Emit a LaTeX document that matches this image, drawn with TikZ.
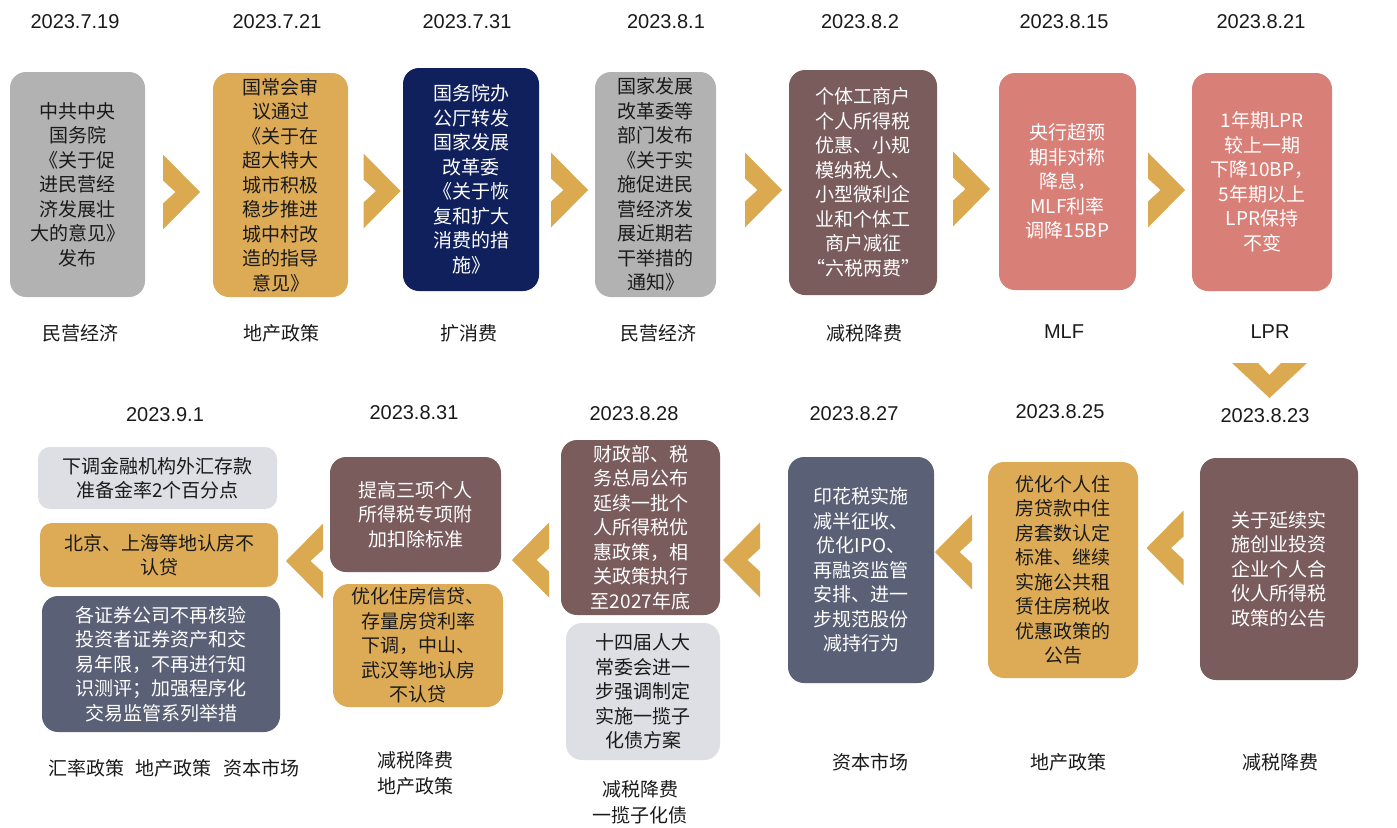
\documentclass[tikz,border=0pt]{standalone}
\usepackage{fontspec}
\setmainfont{Liberation Sans}
\newfontfamily\cjk{Noto Sans CJK SC}
\definecolor{cgray}{HTML}{B2B2B2}
\definecolor{cgold}{HTML}{DDAB56}
\definecolor{cnavy}{HTML}{0F205C}
\definecolor{cbrown}{HTML}{7A5C5C}
\definecolor{csalmon}{HTML}{D87F78}
\definecolor{clight}{HTML}{DEDFE4}
\definecolor{cslate}{HTML}{5A6176}
\definecolor{cchev}{HTML}{DAA950}
\definecolor{ctext}{HTML}{1A1A1A}
\tikzset{
  box/.style={rectangle, rounded corners=16pt, inner sep=0pt, align=center,
    font=\cjk\fontsize{19}{24.5}\selectfont},
  darkt/.style={text=ctext},
  whitet/.style={text=white},
  datelbl/.style={font=\fontsize{20}{24}\selectfont, text=ctext, inner sep=0pt},
  catlbl/.style={font=\cjk\fontsize{19}{26}\selectfont, text=ctext, inner sep=0pt, align=center},
  latlbl/.style={font=\fontsize{20}{24}\selectfont, text=ctext, inner sep=0pt},
  rchev/.pic={\fill[cchev] (-18.5,-37.5) -- (18.5,0) -- (-18.5,37.5) -- (-18.5,11.5) -- (-6,0) -- (-18.5,-11.5) -- cycle;},
  lchev/.pic={\fill[cchev] (18.5,-37.5) -- (-18.5,0) -- (18.5,37.5) -- (18.5,11.5) -- (6,0) -- (18.5,-11.5) -- cycle;},
  dchev/.pic={\fill[cchev] (-37.5,-17.5) -- (-11.5,-17.5) -- (0,-5.5) -- (11.5,-17.5) -- (37.5,-17.5) -- (0,17.5) -- cycle;}
}
\begin{document}
\begin{tikzpicture}[x=1pt,y=-1pt]
\useasboundingbox[fill=white] (0,0) rectangle (1397,827);

% ---- top row dates
\node[datelbl] (d1) at (75,22) {2023.7.19};
\node[datelbl] (d2) at (277,22) {2023.7.21};
\node[datelbl] (d3) at (467,22) {2023.7.31};
\node[datelbl] (d4) at (666,22) {2023.8.1};
\node[datelbl] (d5) at (860,22) {2023.8.2};
\node[datelbl] (d6) at (1064,22) {2023.8.15};
\node[datelbl] (d7) at (1261,22) {2023.8.21};

% ---- top row boxes
\node[box, darkt, fill=cgray, minimum width=135pt, minimum height=225pt] (b1) at (77.5,184.5)
 {中共中央\\国务院\\《关于促\\进民营经\\济发展壮\\大的意见》\\发布};
\node[box, darkt, fill=cgold, minimum width=135pt, minimum height=224pt] (b2) at (280.5,185)
 {国常会审\\议通过\\《关于在\\超大特大\\城市积极\\稳步推进\\城中村改\\造的指导\\意见》};
\node[box, whitet, fill=cnavy, minimum width=136pt, minimum height=223pt] (b3) at (471,179.5)
 {国务院办\\公厅转发\\国家发展\\改革委\\《关于恢\\复和扩大\\消费的措\\施》};
\node[box, darkt, fill=cgray, minimum width=121pt, minimum height=225pt] (b4) at (655.5,184.5)
 {国家发展\\改革委等\\部门发布\\《关于实\\施促进民\\营经济发\\展近期若\\干举措的\\通知》};
\node[box, whitet, fill=cbrown, minimum width=148pt, minimum height=225pt] (b5) at (863,182.5)
 {个体工商户\\个人所得税\\优惠、小规\\模纳税人、\\小型微利企\\业和个体工\\商户减征\\“六税两费”};
\node[box, whitet, fill=csalmon, minimum width=137pt, minimum height=217pt] (b6) at (1067.5,181.5)
 {央行超预\\期非对称\\降息，\\MLF利率\\调降15BP};
\node[box, whitet, fill=csalmon, minimum width=140pt, minimum height=218pt] (b7) at (1262,182)
 {1年期LPR\\较上一期\\下降10BP，\\5年期以上\\LPR保持\\不变};

% ---- top row categories
\node[catlbl] (l1) at (80,333) {民营经济};
\node[catlbl] (l2) at (281,333) {地产政策};
\node[catlbl] (l3) at (469,333) {扩消费};
\node[catlbl] (l4) at (658,333) {民营经济};
\node[catlbl] (l5) at (864,333) {减税降费};
\node[latlbl] (l6) at (1064,332) {MLF};
\node[latlbl] (l7) at (1270,332) {LPR};

% ---- top row chevrons
\pic at (181.5,192) {rchev};
\pic at (382,191) {rchev};
\pic at (569.5,190) {rchev};
\pic at (763.5,190) {rchev};
\pic at (971.5,189) {rchev};
\pic at (1166.5,190) {rchev};
\pic at (1269.5,380.5) {dchev};

% ---- bottom row dates
\node[datelbl] (e1) at (165,415) {2023.9.1};
\node[datelbl] (e2) at (414,413) {2023.8.31};
\node[datelbl] (e3) at (634,414) {2023.8.28};
\node[datelbl] (e4) at (854,414) {2023.8.27};
\node[datelbl] (e5) at (1060,412) {2023.8.25};
\node[datelbl] (e6) at (1265,416) {2023.8.23};

% ---- bottom boxes
\node[box, darkt, fill=clight, minimum width=239pt, minimum height=62pt, rounded corners=12pt] (a91) at (157.5,478)
 {下调金融机构外汇存款\\准备金率2个百分点};
\node[box, darkt, fill=cgold, minimum width=238pt, minimum height=64pt, rounded corners=12pt] (b91) at (159,555)
 {北京、上海等地认房不\\认贷};
\node[box, whitet, fill=cslate, minimum width=238pt, minimum height=136pt] (c91) at (161,664)
 {各证券公司不再核验\\投资者证券资产和交\\易年限，不再进行知\\识测评；加强程序化\\交易监管系列举措};
\node[box, whitet, fill=cbrown, minimum width=171pt, minimum height=115pt] (a831) at (415.5,514.5)
 {提高三项个人\\所得税专项附\\加扣除标准};
\node[box, darkt, fill=cgold, minimum width=170pt, minimum height=123pt] (b831) at (418,645.5)
 {优化住房信贷、\\存量房贷利率\\下调，中山、\\武汉等地认房\\不认贷};
\node[box, whitet, fill=cbrown, minimum width=159pt, minimum height=175pt] (a828) at (640.5,527.5)
 {财政部、税\\务总局公布\\延续一批个\\人所得税优\\惠政策，相\\关政策执行\\至2027年底};
\node[box, darkt, fill=clight, minimum width=154pt, minimum height=137pt] (b828) at (643,691.5)
 {十四届人大\\常委会进一\\步强调制定\\实施一揽子\\化债方案};
\node[box, whitet, fill=cslate, minimum width=146pt, minimum height=226pt] (b827) at (861,570)
 {印花税实施\\减半征收、\\优化IPO、\\再融资监管\\安排、进一\\步规范股份\\减持行为};
\node[box, darkt, fill=cgold, minimum width=150pt, minimum height=216pt] (b825) at (1063,570)
 {优化个人住\\房贷款中住\\房套数认定\\标准、继续\\实施公共租\\赁住房税收\\优惠政策的\\公告};
\node[box, whitet, fill=cbrown, minimum width=158pt, minimum height=222pt] (b823) at (1279,569)
 {关于延续实\\施创业投资\\企业个人合\\伙人所得税\\政策的公告};

% ---- bottom chevrons
\pic at (304.5,561) {lchev};
\pic at (530.5,560) {lchev};
\pic at (741.5,560) {lchev};
\pic at (953.5,552) {lchev};
\pic at (1165,548) {lchev};

% ---- bottom categories
\node[catlbl] (m1) at (174,768) {汇率政策\hspace{12pt}地产政策\hspace{12pt}资本市场};
\node[catlbl] (m2) at (415,773) {减税降费\\地产政策};
\node[catlbl] (m3) at (640,802) {减税降费\\一揽子化债};
\node[catlbl] (m4) at (870,762) {资本市场};
\node[catlbl] (m5) at (1068,762) {地产政策};
\node[catlbl] (m6) at (1280,762) {减税降费};
\end{tikzpicture}
\end{document}
